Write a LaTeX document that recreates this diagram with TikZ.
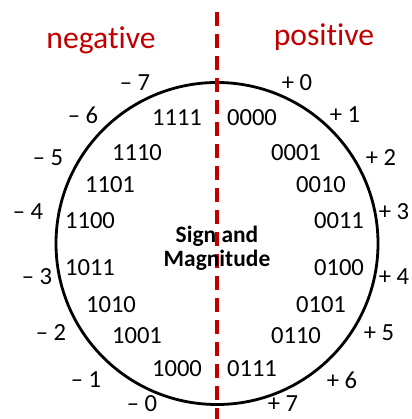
\documentclass[tikz,border=0pt]{standalone}
\usepackage{fontspec}
\setmainfont[Ligatures=NoCommon]{Carlito}
\usetikzlibrary{positioning}
\definecolor{signred}{RGB}{192,0,0}

\begin{document}
\begin{tikzpicture}[
    x=0.03cm, y=-0.03cm,
    bits/.style={font=\fontsize{21}{24}\selectfont, inner sep=0pt},
    value/.style={font=\fontsize{21}{24}\selectfont, inner sep=0pt},
    side/.style={font=\fontsize{27}{32}\selectfont, text=signred, inner sep=0pt, anchor=base},
    ring/.style={circle, draw=black, line width=2.4pt, minimum size=9.66cm, inner sep=0pt},
    divider/.style={draw=signred, line width=2.6pt, dash pattern=on 0.42cm off 0.24cm}
]
\useasboundingbox (0,0) rectangle (411,419);
% titles
\node (neg) [side] at (101,48) {negative};
\node (pos) [side] at (324,45) {positive};
% the ring
\node (wheel) [ring] at (217,243.5) {};
% dividing line
\coordinate (cut top) at (217,12);
\coordinate (cut bottom) at (217,425);
\draw [divider] (cut top) -- (cut bottom);
\node (name) [font=\bfseries\fontsize{20}{20.5}\selectfont, align=center, inner sep=0pt] at (217,248) {Sign and\\Magnitude};
% codes, right half
\node (c0) [bits] at (252,118) {0000};
\node (c1) [bits] at (296,153) {0001};
\node (c2) [bits] at (321,185) {0010};
\node (c3) [bits] at (339,221) {0011};
\node (c4) [bits] at (339,268) {0100};
\node (c5) [bits] at (321,305) {0101};
\node (c6) [bits] at (296,336) {0110};
\node (c7) [bits] at (252,369) {0111};
% codes, left half
\node (c15) [bits] at (177,118) {1111};
\node (c14) [bits] at (137,153) {1110};
\node (c13) [bits] at (110,185) {1101};
\node (c12) [bits] at (90,221) {1100};
\node (c11) [bits] at (90,268) {1011};
\node (c10) [bits] at (111,305) {1010};
\node (c9) [bits] at (137,336) {1001};
\node (c8) [bits] at (177,369) {1000};
% values outside
\node (p0) [value] at (297,83) {+ 0};
\node (p1) [value] at (345,115) {+ 1};
\node (p2) [value] at (381,158) {+ 2};
\node (p3) [value] at (394,212) {+ 3};
\node (p4) [value] at (394,277) {+ 4};
\node (p5) [value] at (379,333) {+ 5};
\node (p6) [value] at (342,380) {+ 6};
\node (p7) [value] at (283,404) {+ 7};
\node (m7) [value] at (135,83) {\textendash\ 7};
\node (m6) [value] at (83,115) {\textendash\ 6};
\node (m5) [value] at (48,158) {\textendash\ 5};
\node (m4) [value] at (28,212) {\textendash\ 4};
\node (m3) [value] at (37,277) {\textendash\ 3};
\node (m2) [value] at (51,333) {\textendash\ 2};
\node (m1) [value] at (86,380) {\textendash\ 1};
\node (m0) [value] at (142,404) {\textendash\ 0};
\end{tikzpicture}
\end{document}
